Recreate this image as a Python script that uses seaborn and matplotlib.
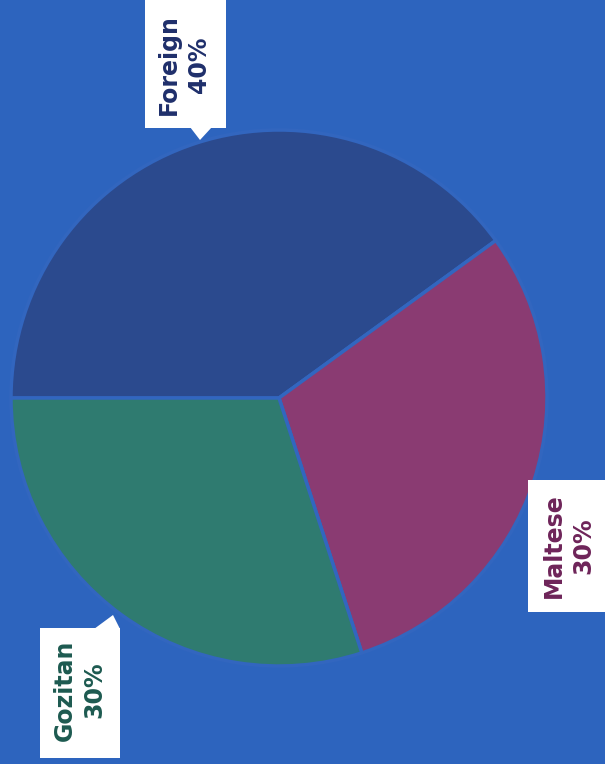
import matplotlib
matplotlib.use('Agg')
import matplotlib.pyplot as plt
import seaborn as sns
from matplotlib.patches import Polygon, Rectangle

sns.set_theme(style='white')
plt.rcParams['font.family'] = ['DejaVu Sans']

# data
labels = ['Foreign', 'Maltese', 'Gozitan']
shares = [40, 30, 30]
slice_colors = ['#2b4a8e', '#8a3b72', '#2f7b70']
text_colors = ['#1f2f6b', '#6e2459', '#1d5a50']

bg = '#2d64be'
W, H = 605, 764

fig = plt.figure(figsize=(W / 100, H / 100), dpi=100, facecolor=bg)
ax = fig.add_axes([0, 0, 1, 1])
ax.set_facecolor(bg)

# pie centre / radius in pixel units
cx, cy, r = 279, H - 398, 268
ax.pie(shares, colors=slice_colors, startangle=180, counterclock=False,
       center=(cx, cy), radius=r,
       wedgeprops=dict(edgecolor='#3266bf', linewidth=2.5))
ax.set_xlim(0, W)
ax.set_ylim(0, H)
ax.set_aspect('equal')
ax.axis('off')

# label boxes: (x0, y0_top, width, height) in pixels from top-left, text centre
boxes = {'Foreign': ((145, -5, 81, 133), (184, 65)),
         'Maltese': ((528, 480, 80, 132), (569, 546)),
         'Gozitan': ((40, 628, 80, 130), (80, 690))}
for lab, val, tc in zip(labels, shares, text_colors):
    (x0, y0, bw, bh), (tx, ty) = boxes[lab]
    ax.add_patch(Rectangle((x0, H - y0 - bh), bw, bh, facecolor='white', edgecolor='none'))
    ax.text(tx, H - ty, f'{lab}\n{val}%', rotation=90, ha='center', va='center',
            fontsize=17, fontweight='bold', color=tc, linespacing=1.3)

# little callout tails
ax.add_patch(Polygon([(190, H - 127), (212, H - 127), (200, H - 140)],
                     closed=True, facecolor='white', edgecolor='none'))
ax.add_patch(Polygon([(94, H - 629), (120, H - 629), (113, H - 615)],
                     closed=True, facecolor='white', edgecolor='none'))

fig.savefig('out.png', dpi=100, facecolor=bg)
